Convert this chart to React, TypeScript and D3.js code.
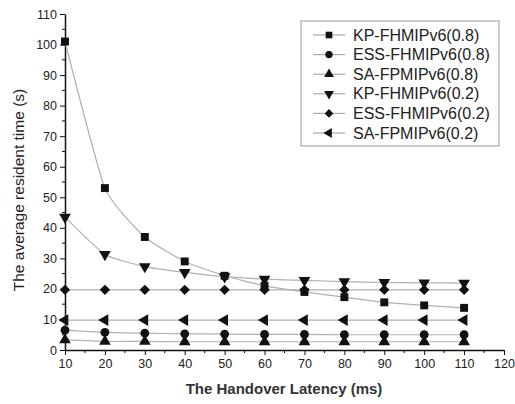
import * as d3 from "d3";
import { useEffect, useRef } from "react";

const latency = [10, 20, 30, 40, 50, 60, 70, 80, 90, 100, 110];
const kp08 = [101, 53, 37, 29, 24.3, 21, 19, 17.3, 15.6, 14.6, 13.8];
const ess08 = [6.5, 5.8, 5.5, 5.3, 5.2, 5.1, 5.1, 5.0, 5.0, 5.0, 5.0];
const sa08 = [3.3, 2.8, 2.8, 2.7, 2.7, 2.7, 2.7, 2.7, 2.7, 2.7, 2.7];
const kp02 = [43.5, 31.3, 27.3, 25.4, 24, 23.2, 22.8, 22.4, 22.1, 22, 21.9];
const ess02 = [19.7, 19.7, 19.7, 19.7, 19.7, 19.7, 19.7, 19.7, 19.7, 19.7, 19.7];
const sa02 = [9.8, 9.8, 9.8, 9.8, 9.8, 9.8, 9.8, 9.8, 9.8, 9.8, 9.8];

const seriesNames = [
  "KP-FHMIPv6(0.8)",
  "ESS-FHMIPv6(0.8)",
  "SA-FPMIPv6(0.8)",
  "KP-FHMIPv6(0.2)",
  "ESS-FHMIPv6(0.2)",
  "SA-FPMIPv6(0.2)",
];
const seriesValues = [kp08, ess08, sa08, kp02, ess02, sa02];
const xTicks = [10, 20, 30, 40, 50, 60, 70, 80, 90, 100, 110, 120];
const yTicks = [0, 10, 20, 30, 40, 50, 60, 70, 80, 90, 100, 110];

// marker shapes, one per series
const shapes = ["square", "circle", "up", "down", "diamond", "left"];

const markerPath = (s: string, r: number) => {
  if (s === "square") return d3.symbol(d3.symbolSquare, r * r * 3.4)();
  if (s === "circle") return d3.symbol(d3.symbolCircle, r * r * 3.3)();
  if (s === "diamond") return d3.symbol(d3.symbolSquare, r * r * 2.9)();
  return d3.symbol(d3.symbolTriangle, r * r * 3.2)();
};
const markerRot = (s: string) =>
  s === "down" ? 180 : s === "left" ? -90 : s === "diamond" ? 45 : 0;

const App = () => {
  const ref = useRef<SVGSVGElement | null>(null);

  useEffect(() => {
    const svg = d3.select(ref.current);
    svg.selectAll("*").remove();

    const x = d3.scaleLinear().domain([10, 120]).range([65, 504]);
    const y = d3.scaleLinear().domain([0, 110]).range([350, 14]);
    const font = "Arial, 'Liberation Sans', sans-serif";

    // axes
    const xAxis = svg.append("g").attr("transform", "translate(0,350)");
    xAxis.call(
      d3.axisBottom(x).tickValues(xTicks).tickSize(5).tickSizeOuter(0).tickPadding(4).tickFormat(d3.format("d"))
    );
    xAxis
      .selectAll(".minor")
      .data(d3.range(15, 120, 10))
      .enter()
      .append("line")
      .attr("x1", (d) => x(d))
      .attr("x2", (d) => x(d))
      .attr("y1", 0)
      .attr("y2", 3)
      .attr("stroke", "#111");

    const yAxis = svg.append("g").attr("transform", "translate(65,0)");
    yAxis.call(
      d3.axisLeft(y).tickValues(yTicks).tickSize(5).tickSizeOuter(0).tickPadding(3).tickFormat(d3.format("d"))
    );
    yAxis
      .selectAll(".minor")
      .data(d3.range(5, 110, 10))
      .enter()
      .append("line")
      .attr("x1", 0)
      .attr("x2", -3)
      .attr("y1", (d) => y(d))
      .attr("y2", (d) => y(d))
      .attr("stroke", "#111");

    svg.selectAll(".domain").attr("stroke", "#111").attr("stroke-width", 1.5);
    svg.selectAll(".tick line").attr("stroke", "#111");
    svg
      .selectAll(".tick text")
      .attr("font-family", font)
      .attr("font-size", 12.5)
      .attr("fill", "#222");

    // axis titles
    svg
      .append("text")
      .attr("x", 284)
      .attr("y", 394)
      .attr("text-anchor", "middle")
      .attr("font-family", font)
      .attr("font-size", 15)
      .attr("font-weight", "bold")
      .attr("fill", "#333")
      .text("The Handover Latency (ms)");
    svg
      .append("text")
      .attr("transform", "translate(24,190) rotate(-90)")
      .attr("text-anchor", "middle")
      .attr("font-family", font)
      .attr("font-size", 15.5)
      .attr("fill", "#222")
      .text("The average resident time (s)");

    const line = d3
      .line<number>()
      .x((_, i) => x(latency[i]))
      .y((d) => y(d))
      .curve(d3.curveCardinal.tension(0.5));

    seriesValues.forEach((vals) => {
      svg
        .append("path")
        .attr("d", line(vals))
        .attr("fill", "none")
        .attr("stroke", "#b0b0b0")
        .attr("stroke-width", 1.2);
    });
    seriesValues.forEach((vals, k) => {
      svg
        .append("g")
        .selectAll("path")
        .data(vals)
        .enter()
        .append("path")
        .attr("d", markerPath(shapes[k], 4.3))
        .attr("transform", (d, i) => `translate(${x(latency[i])},${y(d)}) rotate(${markerRot(shapes[k])})`)
        .attr("fill", "#111");
    });

    // legend
    const lg = svg.append("g");
    lg.append("rect")
      .attr("x", 301)
      .attr("y", 21)
      .attr("width", 198)
      .attr("height", 125)
      .attr("fill", "white")
      .attr("stroke", "#999")
      .attr("stroke-width", 1);
    seriesNames.forEach((name, k) => {
      const yy = 35 + k * 19.6;
      lg.append("line")
        .attr("x1", 313)
        .attr("x2", 345)
        .attr("y1", yy)
        .attr("y2", yy)
        .attr("stroke", "#aaa")
        .attr("stroke-width", 1.2);
      lg.append("path")
        .attr("d", markerPath(shapes[k], 3.6))
        .attr("transform", `translate(329,${yy}) rotate(${markerRot(shapes[k])})`)
        .attr("fill", "#111");
      lg.append("text")
        .attr("x", 353)
        .attr("y", yy + 5.5)
        .attr("font-family", font)
        .attr("font-size", 16)
        .attr("fill", "#222")
        .text(name);
    });
  }, []);

  return <svg ref={ref} width={515} height={404} style={{ position: "absolute", left: 0, top: 0 }} />;
};

export default App;
